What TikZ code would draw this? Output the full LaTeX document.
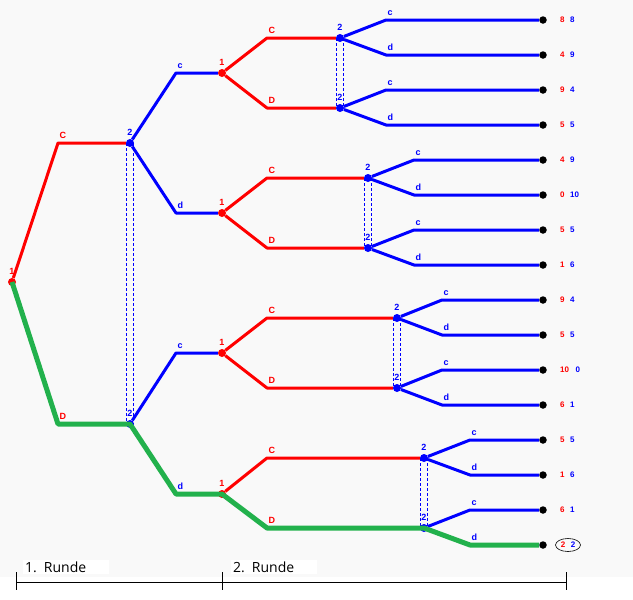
\documentclass[tikz,border=0pt]{standalone}
\usepackage{fontspec}
\setmainfont{Liberation Sans}
\newfontfamily\rundefont{Open Sans}
\usetikzlibrary{shapes.geometric}
\definecolor{pathgreen}{RGB}{34,177,76}
\definecolor{paperbg}{RGB}{249,249,249}

\begin{document}
\begin{tikzpicture}[x=1pt,y=-1pt,line join=round,
  mv1/.style={red,line width=3pt},
  mv2/.style={blue,line width=3pt},
  eqpath/.style={pathgreen,line width=5pt},
  infoset/.style={blue,densely dashed,line width=0.8pt},
  dot1/.style={circle,fill=red,inner sep=0pt,minimum size=8pt},
  dot2/.style={circle,fill=blue,inner sep=0pt,minimum size=8pt},
  leaf/.style={circle,fill=black,inner sep=0pt,minimum size=7.5pt},
  lab1/.style={red,font=\bfseries\fontsize{9}{9}\selectfont},
  lab2/.style={blue,font=\bfseries\fontsize{9}{9}\selectfont},
  pl1/.style={label={[lab1,inner sep=0pt,label distance=3pt]above:#1}},
  pl2/.style={label={[lab2,inner sep=0pt,label distance=3pt]above:#1}},
  mvlab1/.style={label={[lab1,inner sep=0pt,xshift=1.5pt,yshift=4pt]above right:#1}},
  mvlab2/.style={label={[lab2,inner sep=0pt,xshift=1.5pt,yshift=4pt]above right:#1}},
  pay/.style={anchor=west,inner sep=1pt,font=\bfseries\fontsize{8}{8}\selectfont},
  runde/.style={anchor=west,fill=white,inner sep=2pt,text width=82pt,font=\rundefont\fontsize{14}{14}\selectfont}]
\useasboundingbox (0,0) rectangle (633,600);
\fill[paperbg] (0,0) rectangle (633,577);
% decision nodes
\node[dot1,pl1=1] (p1) at (12,282) {};
\node[dot2,pl2=2] (q1) at (130,143) {};
\node[dot2,pl2=2] (q2) at (130,424) {};
\node[dot1,pl1=1] (r1) at (222,73) {};
\node[dot1,pl1=1] (r2) at (222,213) {};
\node[dot1,pl1=1] (r3) at (222,353) {};
\node[dot1,pl1=1] (r4) at (222,494) {};
\node[dot2,pl2=2] (t1) at (340,38) {};
\node[dot2,pl2=2] (t2) at (340,108) {};
\node[dot2,pl2=2] (t3) at (368,178) {};
\node[dot2,pl2=2] (t4) at (368,248) {};
\node[dot2,pl2=2] (t5) at (397,318) {};
\node[dot2,pl2=2] (t6) at (397,388) {};
\node[dot2,pl2=2] (t7) at (424,458) {};
\node[dot2,pl2=2] (t8) at (424,528) {};
% end points
\node[leaf] (e1) at (543,20) {};
\node[leaf] (e2) at (543,55) {};
\node[leaf] (e3) at (543,90) {};
\node[leaf] (e4) at (543,125) {};
\node[leaf] (e5) at (543,160) {};
\node[leaf] (e6) at (543,195) {};
\node[leaf] (e7) at (543,230) {};
\node[leaf] (e8) at (543,265) {};
\node[leaf] (e9) at (543,300) {};
\node[leaf] (e10) at (543,335) {};
\node[leaf] (e11) at (543,370) {};
\node[leaf] (e12) at (543,405) {};
\node[leaf] (e13) at (543,440) {};
\node[leaf] (e14) at (543,475) {};
\node[leaf] (e15) at (543,510) {};
\node[leaf] (e16) at (543,545) {};
% bends
\coordinate[mvlab1=C] (aC) at (58,143);
\coordinate[mvlab1=D] (aD) at (58,424);
\coordinate[mvlab2=c] (b1) at (176,73);
\coordinate[mvlab2=d] (b2) at (176,213);
\coordinate[mvlab2=c] (b3) at (176,353);
\coordinate[mvlab2=d] (b4) at (176,494);
\coordinate[mvlab1=C] (s1) at (267,38);
\coordinate[mvlab1=D] (s2) at (267,108);
\coordinate[mvlab1=C] (s3) at (267,178);
\coordinate[mvlab1=D] (s4) at (267,248);
\coordinate[mvlab1=C] (s5) at (267,318);
\coordinate[mvlab1=D] (s6) at (267,388);
\coordinate[mvlab1=C] (s7) at (267,458);
\coordinate[mvlab1=D] (s8) at (267,528);
\coordinate[mvlab2=c] (u1) at (386,20);
\coordinate[mvlab2=d] (u2) at (386,55);
\coordinate[mvlab2=c] (u3) at (386,90);
\coordinate[mvlab2=d] (u4) at (386,125);
\coordinate[mvlab2=c] (u5) at (414,160);
\coordinate[mvlab2=d] (u6) at (414,195);
\coordinate[mvlab2=c] (u7) at (414,230);
\coordinate[mvlab2=d] (u8) at (414,265);
\coordinate[mvlab2=c] (u9) at (442,300);
\coordinate[mvlab2=d] (u10) at (442,335);
\coordinate[mvlab2=c] (u11) at (442,370);
\coordinate[mvlab2=d] (u12) at (442,405);
\coordinate[mvlab2=c] (u13) at (470,440);
\coordinate[mvlab2=d] (u14) at (470,475);
\coordinate[mvlab2=c] (u15) at (470,510);
\coordinate[mvlab2=d] (u16) at (470,545);
% information sets
\draw[infoset] ([xshift=-3.5pt]q1.center) -- ([xshift=-3.5pt]q2.center);
\draw[infoset] ([xshift=3.5pt]q1.center) -- ([xshift=3.5pt]q2.center);
\draw[infoset] ([xshift=-3.5pt]t1.center) -- ([xshift=-3.5pt]t2.center);
\draw[infoset] ([xshift=3.5pt]t1.center) -- ([xshift=3.5pt]t2.center);
\draw[infoset] ([xshift=-3.5pt]t3.center) -- ([xshift=-3.5pt]t4.center);
\draw[infoset] ([xshift=3.5pt]t3.center) -- ([xshift=3.5pt]t4.center);
\draw[infoset] ([xshift=-3.5pt]t5.center) -- ([xshift=-3.5pt]t6.center);
\draw[infoset] ([xshift=3.5pt]t5.center) -- ([xshift=3.5pt]t6.center);
\draw[infoset] ([xshift=-3.5pt]t7.center) -- ([xshift=-3.5pt]t8.center);
\draw[infoset] ([xshift=3.5pt]t7.center) -- ([xshift=3.5pt]t8.center);
% moves
\draw[mv1] (p1) -- (aC) -- (q1);
\draw[mv1] (p1) -- (aD) -- (q2);
\draw[mv2] (q1) -- (b1) -- (r1);
\draw[mv2] (q1) -- (b2) -- (r2);
\draw[mv2] (q2) -- (b3) -- (r3);
\draw[mv2] (q2) -- (b4) -- (r4);
\draw[mv1] (r1) -- (s1) -- (t1);
\draw[mv1] (r1) -- (s2) -- (t2);
\draw[mv1] (r2) -- (s3) -- (t3);
\draw[mv1] (r2) -- (s4) -- (t4);
\draw[mv1] (r3) -- (s5) -- (t5);
\draw[mv1] (r3) -- (s6) -- (t6);
\draw[mv1] (r4) -- (s7) -- (t7);
\draw[mv1] (r4) -- (s8) -- (t8);
\draw[mv2] (t1) -- (u1) -- (e1);
\draw[mv2] (t1) -- (u2) -- (e2);
\draw[mv2] (t2) -- (u3) -- (e3);
\draw[mv2] (t2) -- (u4) -- (e4);
\draw[mv2] (t3) -- (u5) -- (e5);
\draw[mv2] (t3) -- (u6) -- (e6);
\draw[mv2] (t4) -- (u7) -- (e7);
\draw[mv2] (t4) -- (u8) -- (e8);
\draw[mv2] (t5) -- (u9) -- (e9);
\draw[mv2] (t5) -- (u10) -- (e10);
\draw[mv2] (t6) -- (u11) -- (e11);
\draw[mv2] (t6) -- (u12) -- (e12);
\draw[mv2] (t7) -- (u13) -- (e13);
\draw[mv2] (t7) -- (u14) -- (e14);
\draw[mv2] (t8) -- (u15) -- (e15);
\draw[mv2] (t8) -- (u16) -- (e16);
% equilibrium path
\draw[eqpath] (p1.center) -- (aD) -- (q2.center) -- (b4) -- (r4.center) -- (s8) -- (t8.center) -- (u16) -- (e16);
% payoffs
\node[pay] (o1) at (559,20) {\color{red}8\hspace{5.5pt}\color{blue}8};
\node[pay] (o2) at (559,55) {\color{red}4\hspace{5.5pt}\color{blue}9};
\node[pay] (o3) at (559,90) {\color{red}9\hspace{5.5pt}\color{blue}4};
\node[pay] (o4) at (559,125) {\color{red}5\hspace{5.5pt}\color{blue}5};
\node[pay] (o5) at (559,160) {\color{red}4\hspace{5.5pt}\color{blue}9};
\node[pay] (o6) at (559,195) {\color{red}0\hspace{5.5pt}\color{blue}10};
\node[pay] (o7) at (559,230) {\color{red}5\hspace{5.5pt}\color{blue}5};
\node[pay] (o8) at (559,265) {\color{red}1\hspace{5.5pt}\color{blue}6};
\node[pay] (o9) at (559,300) {\color{red}9\hspace{5.5pt}\color{blue}4};
\node[pay] (o10) at (559,335) {\color{red}5\hspace{5.5pt}\color{blue}5};
\node[pay] (o11) at (559,370) {\color{red}10\hspace{6.5pt}\color{blue}0};
\node[pay] (o12) at (559,405) {\color{red}6\hspace{5.5pt}\color{blue}1};
\node[pay] (o13) at (559,440) {\color{red}5\hspace{5.5pt}\color{blue}5};
\node[pay] (o14) at (559,475) {\color{red}1\hspace{5.5pt}\color{blue}6};
\node[pay] (o15) at (559,510) {\color{red}6\hspace{5.5pt}\color{blue}1};
\node[pay,ellipse,draw=black,line width=0.6pt,inner sep=0.5pt,minimum width=25pt,minimum height=13pt,anchor=center] (o16) at (568,545) {\color{red}2\hspace{5.5pt}\color{blue}2};
% rounds
\coordinate (axL) at (16,582);
\coordinate (axM) at (222,582);
\coordinate (axR) at (566,582);
\draw[line width=0.8pt] (axL) -- (axR);
\draw[line width=0.8pt] ([yshift=10pt]axL) -- ([yshift=-8pt]axL);
\draw[line width=0.8pt] ([yshift=10pt]axM) -- ([yshift=-8pt]axM);
\draw[line width=0.8pt] ([yshift=10pt]axR) -- ([yshift=-8pt]axR);
\node[runde] (rd1) at (23,567) {1. Runde};
\node[runde] (rd2) at (231,567) {2. Runde};
\end{tikzpicture}
\end{document}
